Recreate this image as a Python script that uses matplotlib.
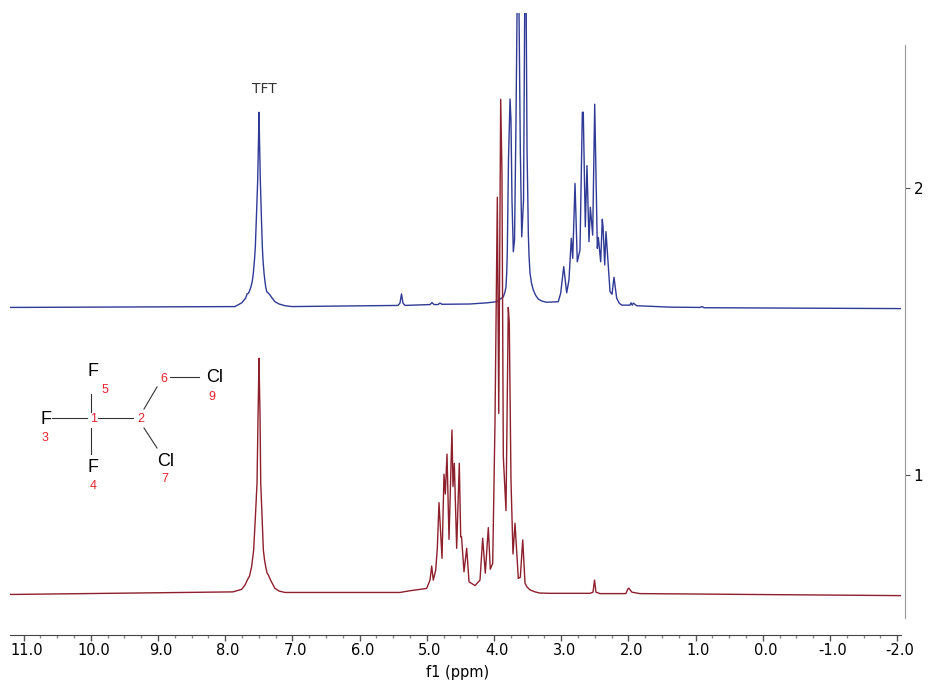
#!/usr/bin/env python3
"""1H NMR stack plot: two spectra with TFT reference and a molecule sketch"""

import matplotlib
matplotlib.use('Agg')
import matplotlib.pyplot as plt
from matplotlib.lines import Line2D
from matplotlib.ticker import MultipleLocator
from matplotlib.transforms import ScaledTranslation

W, H = 935, 681

# ========== data ==========
blue_ppm = [11.201, 7.853, 7.753, 7.693, 7.674, 7.655, 7.637, 7.615, 7.595, 7.580, 7.563, 7.550, 7.533, 7.515,
            7.503, 7.495, 7.488, 7.476, 7.461, 7.446, 7.436, 7.421, 7.406, 7.396, 7.381, 7.357, 7.332, 7.295,
            7.258, 7.198, 7.109, 7.004, 5.427, 5.398, 5.375, 5.353, 5.323, 4.951, 4.921, 4.891, 4.832,
            4.802, 4.772, 4.356, 4.107, 3.958, 3.860, 3.835, 3.820, 3.809, 3.801, 3.783, 3.760, 3.746, 3.731,
            3.711, 3.693, 3.671, 3.644, 3.626, 3.607, 3.586, 3.559, 3.542, 3.527, 3.507, 3.495, 3.488, 3.478,
            3.463, 3.441, 3.414, 3.381, 3.339, 3.284, 3.215,
            3.042, 3.006, 2.961, 2.917, 2.883, 2.848, 2.827, 2.793, 2.759, 2.719, 2.684, 2.670, 2.640, 2.615,
            2.585, 2.565, 2.530, 2.500, 2.461, 2.446, 2.411, 2.387, 2.376, 2.351, 2.332, 2.272, 2.242, 2.213,
            2.173, 2.135, 2.098, 1.975, 1.960, 1.941, 1.925, 1.875, 1.379, 0.933, 0.903, 0.873, -2.058]
blue_int = [1.584, 1.587, 1.600, 1.617, 1.631, 1.633, 1.641, 1.656, 1.676, 1.704, 1.749, 1.796, 1.906, 2.028,
            2.167, 2.264, 2.167, 2.028, 1.906, 1.796, 1.749, 1.704, 1.673, 1.656, 1.639, 1.634, 1.627, 1.615,
            1.604, 1.596, 1.590, 1.587, 1.591, 1.599, 1.631, 1.599, 1.591, 1.594, 1.601, 1.594, 1.594,
            1.599, 1.595, 1.596, 1.600, 1.604, 1.621, 1.638, 1.656, 1.707, 1.774, 2.098, 2.310, 2.237, 1.958,
            1.778, 1.819, 2.237, 2.900, 2.610, 2.132, 1.830, 1.958, 2.610, 2.900, 2.132, 1.958, 1.843, 1.767,
            1.704, 1.669, 1.645, 1.627, 1.613, 1.606, 1.602,
            1.604, 1.634, 1.726, 1.635, 1.680, 1.825, 1.755, 2.016, 1.743, 1.784, 2.264, 2.264, 1.865, 2.078,
            1.813, 1.933, 1.836, 2.292, 1.790, 1.828, 1.743, 1.891, 1.865, 1.732, 1.848, 1.639, 1.630, 1.689,
            1.616, 1.599, 1.592, 1.592, 1.600, 1.592, 1.599, 1.590, 1.585, 1.584, 1.587, 1.583, 1.580]

red_ppm = [11.201, 7.883, 7.753, 7.704, 7.664, 7.637, 7.605, 7.575, 7.548, 7.525, 7.510, 7.502, 7.495, 7.489,
           7.480, 7.470, 7.451, 7.431, 7.413, 7.396, 7.376, 7.357, 7.317, 7.258, 7.198, 7.109,
           5.398, 5.249, 5.001, 4.951, 4.926, 4.902, 4.866, 4.842, 4.817, 4.772,
           4.743, 4.723, 4.698, 4.668, 4.624, 4.609, 4.589, 4.554, 4.515, 4.494, 4.482, 4.445, 4.405, 4.370,
           4.281, 4.207, 4.167, 4.128, 4.083, 4.054, 4.018, 3.984, 3.949, 3.928, 3.899, 3.880, 3.860, 3.820,
           3.786, 3.771, 3.746, 3.716, 3.686, 3.637, 3.607, 3.571, 3.537, 3.507, 3.463, 3.389, 3.315, 3.166,
           2.570, 2.525, 2.503, 2.481, 2.421, 2.037, 2.007, 1.992, 1.947, 1.828, -2.058]
red_int = [0.584, 0.593, 0.602, 0.617, 0.637, 0.648, 0.681, 0.739, 0.861, 0.972, 1.203, 1.314, 1.407, 1.314,
           1.203, 0.972, 0.861, 0.739, 0.704, 0.681, 0.659, 0.652, 0.631, 0.605, 0.596, 0.591,
           0.591, 0.597, 0.605, 0.634, 0.683, 0.634, 0.669, 0.745, 0.904, 0.710,
           1.003, 0.934, 1.073, 0.776, 1.157, 0.960, 1.041, 0.745, 1.041, 0.785, 0.785, 0.663, 0.745, 0.628,
           0.615, 0.634, 0.780, 0.658, 0.817, 0.672, 0.692, 1.181, 1.968, 1.215, 2.309, 2.051, 1.064, 0.876,
           1.584, 1.530, 0.983, 0.725, 0.832, 0.640, 0.644, 0.774, 0.623, 0.610, 0.600, 0.593, 0.589, 0.588,
           0.588, 0.592, 0.634, 0.592, 0.587, 0.587, 0.603, 0.606, 0.592, 0.587, 0.580]

x_ticks = [11, 10, 9, 8, 7, 6, 5, 4, 3, 2, 1, 0, -1, -2]
x_labels = ['11.0', '10.0', '9.0', '8.0', '7.0', '6.0', '5.0', '4.0', '3.0', '2.0', '1.0', '0.0', '-1.0', '-2.0']
y_ticks = [1, 2]
y_labels = ['1', '2']

# molecule sketch: text, x px, y px
atoms = [('F', 93, 371), ('F', 46, 419), ('F', 93, 467), ('Cl', 215, 378), ('Cl', 166, 461)]
numbers = [('5', 105, 390), ('1', 94, 419), ('3', 45, 438), ('4', 93, 486),
           ('2', 141, 419), ('6', 164, 379), ('9', 212, 397), ('7', 165, 479)]
bonds = [(52, 418, 87, 418), (98, 418, 133, 418), (91, 394, 91, 412), (91, 428, 91, 454),
         (144, 409, 157, 387), (144, 428, 157, 448), (170, 377, 199, 377)]

# ========== figure ==========
fig = plt.figure(figsize=(W / 100, H / 100), dpi=100)
ax = fig.add_axes([10 / W, 1 - 635 / H, 891 / W, 622 / H])
ax.patch.set_alpha(0)

ax.plot(blue_ppm, blue_int, color='#2f3a96', lw=1.0)
ax.plot(red_ppm, red_int, color='#8e1f2c', lw=1.0)

ax.set_xlim(11.201, -2.058)
ax.set_ylim(0.4428, 2.6098)

ax.spines['top'].set_visible(False)
ax.spines['left'].set_visible(False)
ax.spines['bottom'].set_color('#444444')
ax.spines['right'].set_color('#999999')
ax.spines['right'].set_position(('outward', 3))
ax.spines['right'].set_bounds(0.502, 2.5)

ax.set_xticks(x_ticks)
ax.set_xticklabels(x_labels, fontsize=10.5)
ax.xaxis.set_minor_locator(MultipleLocator(0.25))
ax.tick_params(axis='x', which='major', length=4.5, width=1, color='#555555', pad=1.5)
ax.tick_params(axis='x', which='minor', length=2.5, width=1, color='#888888')
# labels sit a little to the right of their ticks
shift = ScaledTranslation(3 / 100, 0, fig.dpi_scale_trans)
for lab in ax.get_xticklabels():
    lab.set_transform(lab.get_transform() + shift)
ax.set_xlabel('f1 (ppm)', fontsize=10.5)
ax.xaxis.set_label_coords(448 / 891, -30 / 622)

ax.yaxis.tick_right()
ax.set_yticks(y_ticks)
ax.set_yticklabels(y_labels, fontsize=11)
ax.tick_params(axis='y', length=3.5, width=0.8, color='#555555', pad=2.5)

fig.text(264 / W, 1 - 89 / H, 'TFT', fontsize=10, color='#333333', ha='center', va='center')

# molecule is placed in figure pixels
for a, x, y in atoms:
    fig.text(x / W, 1 - y / H, a, fontsize=13, color='black', ha='center', va='center', family='Liberation Sans')
for n, x, y in numbers:
    fig.text(x / W, 1 - y / H, n, fontsize=9, color='#e8222e', ha='center', va='center', family='Liberation Sans')
for x0, y0, x1, y1 in bonds:
    fig.add_artist(Line2D([x0 / W, x1 / W], [1 - y0 / H, 1 - y1 / H], color='#333333', lw=0.8))

fig.savefig('out.png', dpi=100)
